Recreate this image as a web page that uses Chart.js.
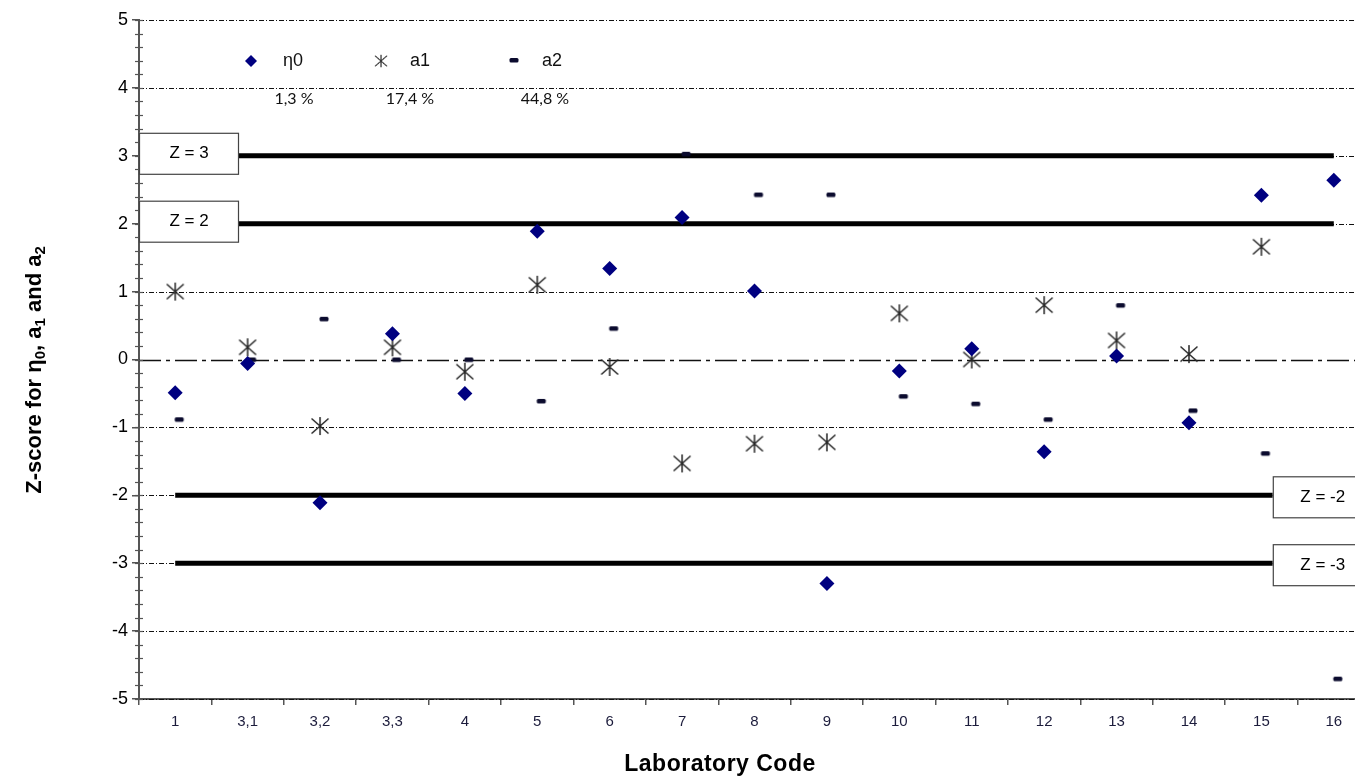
<!DOCTYPE html>
<html>
<head>
<meta charset="utf-8">
<script src="https://cdn.jsdelivr.net/npm/chart.js@4.4.0/dist/chart.umd.min.js"></script>
<style>
  html, body { margin: 0; padding: 0; background: #fff; overflow: hidden; }
  canvas { display: block; }
</style>
</head>
<body>
<canvas id="zChart" width="1380" height="777"></canvas>
<script>
const labCodes = ["1", "3,1", "3,2", "3,3", "4", "5", "6", "7", "8", "9", "10", "11", "12", "13", "14", "15", "16"];
const eta0 = [-0.49, -0.06, -2.11, 0.38, -0.5, 1.89, 1.34, 2.09, 1.01, -3.3, -0.17, 0.16, -1.36, 0.05, -0.93, 2.42, 2.64];
const a1 = [1.0, 0.18, -0.98, 0.18, -0.18, 1.1, -0.11, -1.53, -1.24, -1.22, 0.68, 0.0, 0.8, 0.28, 0.08, 1.66, null];
const a2 = [-0.88, 0.0, 0.6, 0.0, 0.0, -0.61, 0.46, 3.03, 2.43, 2.43, -0.54, -0.65, -0.88, 0.8, -0.75, -1.38, -4.7];
const seriesNames = ["η0", "a1", "a2"];
const seriesShares = ["1,3 %", "17,4 %", "44,8 %"];
const yTicks = [-5, -4, -3, -2, -1, 0, 1, 2, 3, 4, 5];
const zLimits = [3, 2, -2, -3];

const FONT = "Arial, 'Liberation Sans', sans-serif";

/* ---------- marker images ---------- */

function makeAsterisk() {
  const c = document.createElement("canvas");
  c.width = 20; c.height = 20;
  const g = c.getContext("2d");
  g.strokeStyle = "#262626";
  g.lineWidth = 1.5;
  g.beginPath();
  g.moveTo(10, 1); g.lineTo(10, 19);
  g.moveTo(1.5, 2.5); g.lineTo(18.5, 17.5);
  g.moveTo(18.5, 2.5); g.lineTo(1.5, 17.5);
  g.stroke();
  return c;
}

function makeDash() {
  // dash sits a little to the right of the category, like the original
  const c = document.createElement("canvas");
  c.width = 30; c.height = 10;
  const g = c.getContext("2d");
  g.fillStyle = "#0b0b2e";
  g.beginPath();
  g.roundRect(14.5, 3, 9, 4.5, 1.5);
  g.fill();
  return c;
}

const asteriskImg = makeAsterisk();
const dashImg = makeDash();

/* ---------- drawing helpers ---------- */

const guidesPlugin = {
  id: "guides",
  beforeDatasetsDraw(chart) {
    const { ctx, chartArea: area, scales: { x, y } } = chart;
    ctx.save();

    // dashed grid lines
    yTicks.forEach(v => {
      const py = Math.round(y.getPixelForValue(v)) + 0.5;
      ctx.beginPath();
      ctx.strokeStyle = "#111";
      if (v === 0) {
        ctx.lineWidth = 1.5;
        ctx.setLineDash([22, 5, 4, 5]);
      } else {
        ctx.lineWidth = 1;
        ctx.setLineDash([5, 2, 1, 2]);
      }
      ctx.moveTo(area.left, py);
      ctx.lineTo(area.right, py);
      ctx.stroke();
    });
    ctx.setLineDash([]);

    // minor ticks on the y axis
    ctx.strokeStyle = "#555";
    ctx.lineWidth = 1.2;
    for (let i = 0; i <= 50; i++) {
      const v = -5 + i * 0.2;
      const py = Math.round(y.getPixelForValue(v)) + 0.5;
      ctx.beginPath();
      ctx.moveTo(area.left - 4, py);
      ctx.lineTo(area.left + 4, py);
      ctx.stroke();
    }

    // Z limit lines with their boxes
    const firstX = x.getPixelForValue(0);
    const lastX = x.getPixelForValue(labCodes.length - 1);
    zLimits.forEach(z => {
      const py = y.getPixelForValue(z);
      let boxL, lineA, lineB, boxTop;
      if (z > 0) {
        boxL = area.left;
        lineA = boxL + 99;
        lineB = lastX;
        boxTop = py - 23;
      } else {
        boxL = lastX - 61;
        lineA = firstX;
        lineB = boxL;
        boxTop = py - 19;
      }
      ctx.beginPath();
      ctx.strokeStyle = "#000";
      ctx.lineWidth = 5;
      ctx.moveTo(lineA, py);
      ctx.lineTo(lineB, py);
      ctx.stroke();

      ctx.fillStyle = "#fff";
      ctx.strokeStyle = "#444";
      ctx.lineWidth = 1.2;
      ctx.fillRect(boxL, boxTop, 99, 41);
      ctx.strokeRect(boxL + 0.5, boxTop + 0.5, 99, 41);

      ctx.fillStyle = "#000";
      ctx.font = "17px " + FONT;
      ctx.textAlign = "center";
      ctx.textBaseline = "middle";
      ctx.fillText("Z = " + z, boxL + 50, boxTop + 21);
    });

    ctx.restore();
  },
  afterDraw(chart) {
    const { ctx } = chart;
    ctx.save();

    // legend inside the plot
    const markX = [251, 381, 514];
    const textX = [283, 410, 542];
    const shareX = [294, 410, 545];
    const ly = 61;
    ctx.fillStyle = "#000080";
    ctx.beginPath();
    ctx.moveTo(markX[0], ly - 6);
    ctx.lineTo(markX[0] + 6, ly);
    ctx.lineTo(markX[0], ly + 6);
    ctx.lineTo(markX[0] - 6, ly);
    ctx.closePath();
    ctx.fill();
    ctx.drawImage(asteriskImg, markX[1] - 7, ly - 7, 14, 14);
    ctx.drawImage(dashImg, markX[2] - 19, ly - 6, 30, 10);

    ctx.fillStyle = "#111";
    ctx.textBaseline = "middle";
    ctx.textAlign = "left";
    ctx.font = "18px " + FONT;
    seriesNames.forEach((n, i) => ctx.fillText(n, textX[i], ly));

    ctx.textAlign = "center";
    ctx.font = "16px Lato, 'Open Sans', sans-serif";
    seriesShares.forEach((s, i) => ctx.fillText(s, shareX[i], 99));

    // x axis title
    ctx.font = "bold 23px " + FONT;
    ctx.letterSpacing = "0.5px";
    ctx.textAlign = "center";
    ctx.fillStyle = "#000";
    ctx.fillText("Laboratory Code", 720, 765);
    ctx.letterSpacing = "0px";

    // y axis title with subscripts
    ctx.translate(35, 370);
    ctx.rotate(-Math.PI / 2);
    const parts = [
      ["Z-score for η", false], ["0", true], [", a", false], ["1", true],
      [" and a", false], ["2", true]
    ];
    const big = "bold 22px " + FONT;
    const small = "bold 15px " + FONT;
    let total = 0;
    parts.forEach(([t, sub]) => {
      ctx.font = sub ? small : big;
      total += ctx.measureText(t).width;
    });
    let px = -total / 2;
    ctx.textAlign = "left";
    parts.forEach(([t, sub]) => {
      ctx.font = sub ? small : big;
      ctx.fillText(t, px, sub ? 6 : 0);
      px += ctx.measureText(t).width;
    });

    ctx.restore();
  }
};

/* ---------- chart ---------- */

new Chart(document.getElementById("zChart"), {
  type: "line",
  data: {
    labels: labCodes,
    datasets: [
      {
        label: seriesNames[0],
        data: eta0,
        showLine: false,
        pointStyle: "rectRot",
        pointRadius: 7.5,
        pointBackgroundColor: "#000080",
        pointBorderColor: "#000080",
        pointBorderWidth: 0
      },
      {
        label: seriesNames[1],
        data: a1,
        showLine: false,
        pointStyle: asteriskImg,
        pointRadius: 9
      },
      {
        label: seriesNames[2],
        data: a2,
        showLine: false,
        pointStyle: dashImg,
        pointRadius: 5
      }
    ]
  },
  options: {
    responsive: false,
    animation: false,
    events: [],
    layout: { padding: { top: 20, right: 8, left: 0, bottom: 0 } },
    plugins: {
      legend: { display: false },
      tooltip: { enabled: false }
    },
    scales: {
      x: {
        type: "category",
        offset: true,
        grid: { offset: true, drawOnChartArea: false, tickLength: 6, color: "#555", lineWidth: 1.5 },
        border: { color: "#555", width: 2 },
        ticks: {
          autoSkip: false,
          maxRotation: 0,
          padding: 8,
          color: "#1c1c3c",
          font: { family: FONT, size: 15 }
        },
        afterFit: s => { s.height = 78; }
      },
      y: {
        min: -5,
        max: 5,
        afterBuildTicks: s => { s.ticks = yTicks.map(v => ({ value: v })); },
        grid: { drawOnChartArea: false, tickLength: 7, color: "#555", lineWidth: 1.5 },
        border: { color: "#555", width: 2 },
        ticks: {
          padding: 4,
          color: "#000",
          font: { family: FONT, size: 18 }
        },
        afterFit: s => { s.width = 139; }
      }
    }
  },
  plugins: [guidesPlugin]
});
</script>
</body>
</html>
